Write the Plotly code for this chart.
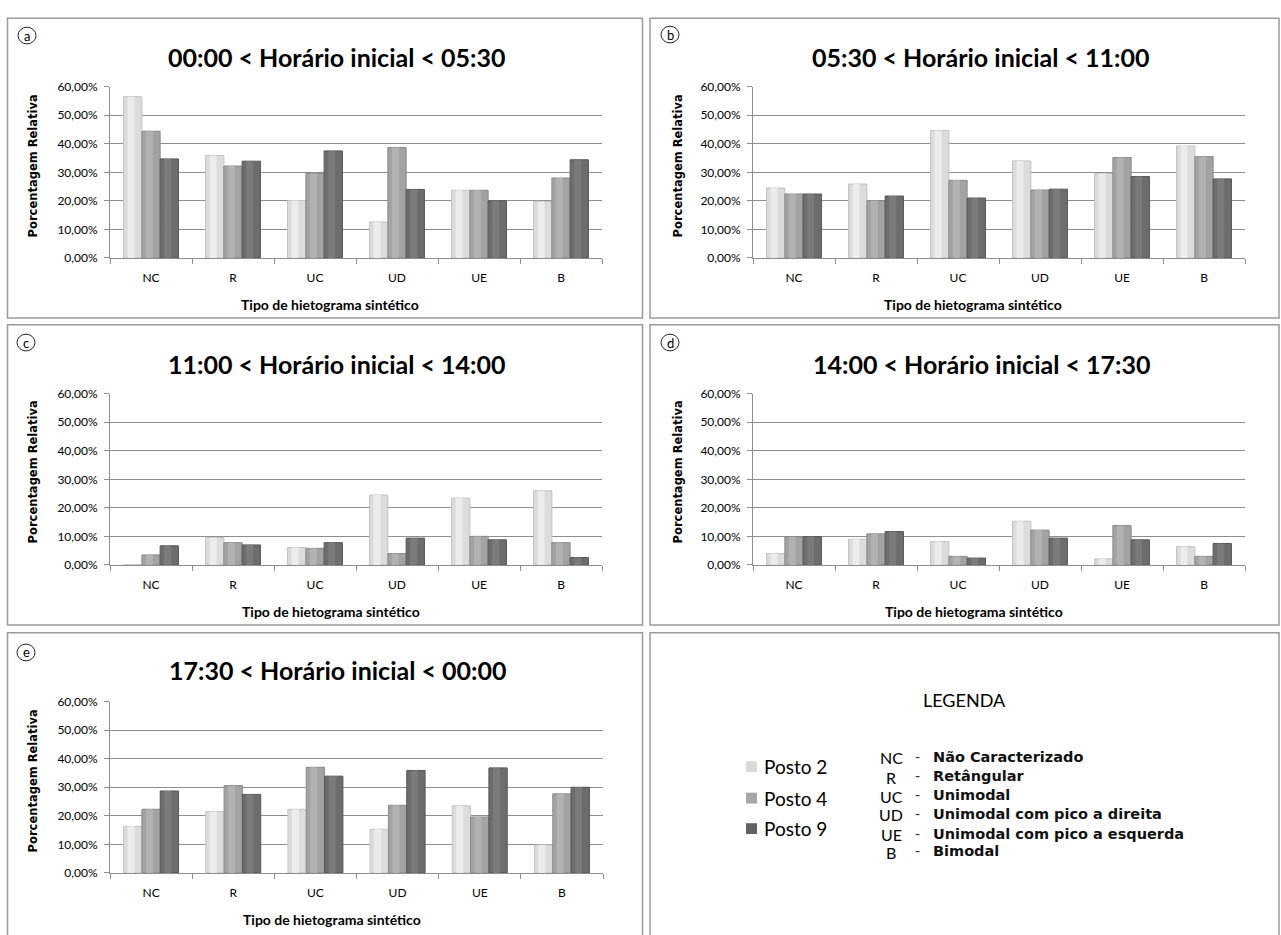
import plotly.graph_objects as go

# ---------------- data ----------------
categories = ["NC", "R", "UC", "UD", "UE", "B"]
series_names = ["Posto 2", "Posto 4", "Posto 9"]

panel_titles = [
    "00:00 < Horário inicial < 05:30",
    "05:30 < Horário inicial < 11:00",
    "11:00 < Horário inicial < 14:00",
    "14:00 < Horário inicial < 17:30",
    "17:30 < Horário inicial < 00:00",
]
panel_letters = ["a", "b", "c", "d", "e"]

# values in percent, one list per station (Posto 2, Posto 4, Posto 9)
a_posto2 = [56.5, 35.9, 20.1, 12.6, 23.7, 19.8]
a_posto4 = [44.4, 32.2, 29.6, 38.7, 23.7, 28.0]
a_posto9 = [34.7, 33.9, 37.5, 24.0, 20.0, 34.4]

b_posto2 = [24.5, 25.9, 44.7, 34.0, 29.6, 39.2]
b_posto4 = [22.4, 20.0, 27.2, 23.8, 35.2, 35.5]
b_posto9 = [22.4, 21.7, 21.0, 24.1, 28.5, 27.7]

c_posto2 = [0.0, 9.6, 6.1, 24.5, 23.4, 26.0]
c_posto4 = [3.5, 7.8, 5.8, 4.0, 10.0, 7.8]
c_posto9 = [6.7, 7.0, 7.8, 9.4, 8.8, 2.6]

d_posto2 = [4.0, 9.0, 8.2, 15.3, 2.1, 6.4]
d_posto4 = [9.8, 10.9, 3.0, 12.2, 13.8, 3.0]
d_posto9 = [9.9, 11.7, 2.4, 9.4, 8.8, 7.5]

e_posto2 = [16.3, 21.5, 22.3, 15.3, 23.5, 9.8]
e_posto4 = [22.3, 30.6, 37.0, 23.7, 19.6, 27.7]
e_posto9 = [28.7, 27.5, 33.9, 35.9, 36.8, 30.0]

panel_data = [
    [a_posto2, a_posto4, a_posto9],
    [b_posto2, b_posto4, b_posto9],
    [c_posto2, c_posto4, c_posto9],
    [d_posto2, d_posto4, d_posto9],
    [e_posto2, e_posto4, e_posto9],
]

y_tickvals = [0, 10, 20, 30, 40, 50, 60]
y_ticktext = ["0,00%", "10,00%", "20,00%", "30,00%", "40,00%", "50,00%", "60,00%"]

legend_abbr = ["NC", "R", "UC", "UD", "UE", "B"]
legend_desc = [
    "Não Caracterizado",
    "Retângular",
    "Unimodal",
    "Unimodal com pico a direita",
    "Unimodal com pico a esquerda",
    "Bimodal",
]

# ---------------- styling ----------------
W, H = 1281, 935
fill_colors = ["#dcdcdc", "#a3a3a3", "#6d6d6d"]
edge_colors = ["#c2c2c2", "#8a8a8a", "#565656"]
high_colors = ["#ececec", "#b2b2b2", "#7b7b7b"]
swatch_colors = ["#d9d9d9", "#a6a6a6", "#616161"]
grid_color = "#8e8e8e"
frame_color = "#9a9a9a"

# plot areas in pixels: (x0, x1, ytop, ybottom)
plot_px = [
    (110, 602, 80, 254),
    (753, 1245, 80, 254),
    (110, 602, 392, 566),
    (753, 1245, 392, 566),
    (110, 603, 705, 879),
]
# panel frames: (x0, x1, y0, y1)
frames_px = [
    (7.5, 642.5, 10.5, 315),
    (650, 1279, 10.5, 315),
    (7.5, 642.5, 322, 627),
    (650, 1279, 322, 627),
    (7.5, 642.5, 635, 945),
    (650, 1279, 635, 945),
]
title_pos = [(336, 50), (980, 50), (336, 362), (981, 362), (337, 673)]
xtitle_pos = [(330, 301), (973, 301), (331, 613), (974, 613), (332, 926)]
ytitle_pos = [(33, 161), (678, 161), (33, 472), (678, 472), (33, 786)]
circle_pos = [(27, 28), (670, 27), (26, 340), (670, 340), (26, 655)]


def px_x(x):
    return x / W


def px_y(y):
    return 1 - y / H


fig = go.Figure()

bar_w = 0.223
for p in range(5):
    xa = "x" if p == 0 else f"x{p + 1}"
    ya = "y" if p == 0 else f"y{p + 1}"
    for j in range(3):
        vals = panel_data[p][j]
        off = (j - 1.5) * bar_w
        fig.add_trace(go.Bar(
            x=categories, y=vals, name=series_names[j],
            xaxis=xa, yaxis=ya, width=bar_w, offset=off,
            marker=dict(color=fill_colors[j], line=dict(color=edge_colors[j], width=1)),
            showlegend=False,
        ))
        fig.add_trace(go.Bar(
            x=categories, y=vals, name=series_names[j],
            xaxis=xa, yaxis=ya, width=bar_w * 0.38, offset=off + bar_w * 0.22,
            marker=dict(color=high_colors[j], line=dict(width=0)),
            showlegend=False, hoverinfo="skip",
        ))

layout = dict(
    width=W, height=H, autosize=False,
    margin=dict(l=0, r=0, t=0, b=0, pad=0),
    paper_bgcolor="white", plot_bgcolor="white",
    barmode="overlay",
    showlegend=False,
    font=dict(family="Lato, 'Open Sans', sans-serif", color="#000"),
)

for p in range(5):
    x0, x1, yt, yb = plot_px[p]
    xk = "xaxis" if p == 0 else f"xaxis{p + 1}"
    yk = "yaxis" if p == 0 else f"yaxis{p + 1}"
    ya = "y" if p == 0 else f"y{p + 1}"
    xa = "x" if p == 0 else f"x{p + 1}"
    layout[xk] = dict(
        domain=[px_x(x0), px_x(x1)], anchor=ya,
        type="category", range=[-0.5, 5.5],
        showline=True, linecolor=grid_color, linewidth=1,
        ticks="outside", tickson="boundaries", ticklen=5, tickcolor=grid_color,
        showgrid=False, zeroline=False,
        tickfont=dict(size=12, family="Lato"), ticklabelstandoff=9,
        fixedrange=True,
    )
    layout[yk] = dict(
        domain=[px_y(yb), px_y(yt)], anchor=xa,
        range=[0, 60], tickvals=y_tickvals, ticktext=y_ticktext,
        showline=True, linecolor=grid_color, linewidth=1,
        ticks="outside", ticklen=5, tickcolor=grid_color,
        showgrid=True, gridcolor=grid_color, gridwidth=1, zeroline=False,
        tickfont=dict(size=12, family="Lato"), ticklabelstandoff=4,
        fixedrange=True,
    )

fig.update_layout(**layout)

shapes = []
annotations = []
for (fx0, fx1, fy0, fy1) in frames_px:
    shapes.append(dict(type="rect", xref="paper", yref="paper",
                       x0=px_x(fx0), x1=px_x(fx1), y0=px_y(fy1), y1=px_y(fy0),
                       line=dict(color=frame_color, width=1.5), fillcolor="rgba(0,0,0,0)",
                       layer="below"))

for p in range(5):
    tx, ty = title_pos[p]
    annotations.append(dict(text=f"<b>{panel_titles[p]}</b>", x=px_x(tx), y=px_y(ty),
                            xref="paper", yref="paper", showarrow=False,
                            xanchor="center", yanchor="middle",
                            font=dict(size=25, family="Lato", color="#000")))
    xx, xy = xtitle_pos[p]
    annotations.append(dict(text="<b>Tipo de hietograma sintético</b>", x=px_x(xx), y=px_y(xy),
                            xref="paper", yref="paper", showarrow=False,
                            xanchor="center", yanchor="middle",
                            font=dict(size=14, family="Lato", color="#000")))
    yx, yy = ytitle_pos[p]
    annotations.append(dict(text="<b>Porcentagem Relativa</b>", x=px_x(yx), y=px_y(yy),
                            xref="paper", yref="paper", showarrow=False, textangle=-90,
                            xanchor="center", yanchor="middle",
                            font=dict(size=11.5, family="DejaVu Sans", color="#000")))
    cx, cy = circle_pos[p]
    shapes.append(dict(type="circle", xref="paper", yref="paper",
                       x0=px_x(cx - 9), x1=px_x(cx + 9), y0=px_y(cy + 8.5), y1=px_y(cy - 8.5),
                       line=dict(color="#222", width=1)))
    annotations.append(dict(text=panel_letters[p], x=px_x(cx), y=px_y(cy),
                            xref="paper", yref="paper", showarrow=False,
                            xanchor="center", yanchor="middle",
                            font=dict(size=13, family="Lato", color="#000")))

# legend panel
annotations.append(dict(text="LEGENDA", x=px_x(965), y=px_y(703), xref="paper", yref="paper",
                        showarrow=False, xanchor="center", yanchor="middle",
                        font=dict(size=18, family="Lato", color="#000")))
sw_y = [771, 803, 834]
for j in range(3):
    shapes.append(dict(type="rect", xref="paper", yref="paper",
                       x0=px_x(746), x1=px_x(757), y0=px_y(sw_y[j] + 5.5), y1=px_y(sw_y[j] - 5.5),
                       line=dict(width=0), fillcolor=swatch_colors[j]))
    annotations.append(dict(text=series_names[j], x=px_x(762), y=px_y(sw_y[j]),
                            xref="paper", yref="paper", showarrow=False,
                            xanchor="left", yanchor="middle",
                            font=dict(size=19, family="Lato", color="#000")))

abbr_y = [762, 782, 801, 820, 840, 858]
for k in range(6):
    annotations.append(dict(text=legend_abbr[k], x=px_x(891), y=px_y(abbr_y[k]),
                            xref="paper", yref="paper", showarrow=False,
                            xanchor="center", yanchor="middle",
                            font=dict(size=16, family="Lato", color="#000")))
    annotations.append(dict(text="-", x=px_x(917), y=px_y(abbr_y[k] - 1),
                            xref="paper", yref="paper", showarrow=False,
                            xanchor="center", yanchor="middle",
                            font=dict(size=14, family="DejaVu Sans", color="#333")))
    annotations.append(dict(text=f"<b>{legend_desc[k]}</b>", x=px_x(931), y=px_y(abbr_y[k] - 1),
                            xref="paper", yref="paper", showarrow=False,
                            xanchor="left", yanchor="middle",
                            font=dict(size=14.5, family="DejaVu Sans", color="#111")))

fig.update_layout(shapes=shapes, annotations=annotations)

post_js = (
    "var d=document.getElementById('{plot_id}');"
    "d.style.position='fixed';d.style.top='0px';d.style.left='0px';"
    "document.body.style.margin='0px';document.body.style.padding='0px';"
    "document.documentElement.style.overflow='hidden';document.body.style.overflow='hidden';"
)
fig.write_html("out.html", config={"displayModeBar": False, "responsive": False},
               post_script=post_js)
